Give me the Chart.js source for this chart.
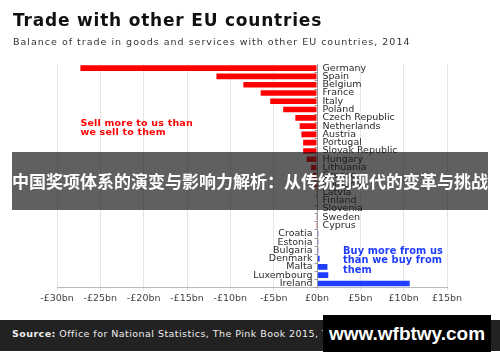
<!DOCTYPE html>
<html>
<head>
<meta charset="utf-8">
<script src="https://cdn.jsdelivr.net/npm/chart.js@4.4.0/dist/chart.umd.min.js"></script>
<style>
  body { margin: 0; width: 500px; height: 362px; overflow: hidden; background: #fff; position: relative; font-family: "DejaVu Sans", sans-serif; }
  #chart { position: absolute; left: 0; top: 0; }
  #title { position: absolute; left: 13px; top: 10px; font-size: 17px; letter-spacing: 0.8px; font-weight: bold; color: #111; white-space: nowrap; }
  #subtitle { position: absolute; left: 13px; top: 36px; font-size: 9.5px; letter-spacing: 1px; color: #333; white-space: nowrap; }
  #footer { position: absolute; left: 0; top: 320px; width: 500px; height: 31px; background: #222; }
  #source { position: absolute; left: 12px; top: 8px; font-size: 9.5px; letter-spacing: 0.45px; color: #eee; white-space: nowrap; }
  #banner { position: absolute; left: 12px; top: 152px; width: 476px; height: 58px; background: rgba(20,20,20,0.68);
            color: #fff; font-family: "Noto Sans CJK SC", sans-serif; font-weight: bold; font-size: 17px;
            line-height: 58px; text-align: center; white-space: nowrap; }
  #mark { position: absolute; left: 323px; top: 315px; width: 168px; height: 37px; background: #000;
          color: #fff; font-family: "Liberation Sans", Arial, sans-serif; font-weight: bold; font-size: 19px;
          line-height: 37px; text-align: center; }
</style>
</head>
<body>
<canvas id="chart" width="500" height="362"></canvas>
<div id="title">Trade with other EU countries</div>
<div id="subtitle">Balance of trade in goods and services with other EU countries, 2014</div>
<div id="footer"><div id="source"><b>Source:</b> Office for National Statistics, The Pink Book 2015, Table 9.3</div></div>
<div id="banner">中国奖项体系的演变与影响力解析：从传统到现代的变革与挑战</div>
<div id="mark">www.wfbtwy.com</div>
<script>
var countries = ['Germany', 'Spain', 'Belgium', 'France', 'Italy', 'Poland', 'Czech Republic', 'Netherlands',
  'Austria', 'Portugal', 'Slovak Republic', 'Hungary', 'Lithuania', 'Greece', 'Romania', 'Latvia', 'Finland',
  'Slovenia', 'Sweden', 'Cyprus', 'Croatia', 'Estonia', 'Bulgaria', 'Denmark', 'Malta', 'Luxembourg', 'Ireland'];
// balance in £bn
var balance = [-27.3, -11.6, -8.5, -6.5, -5.4, -3.9, -2.5, -2.0,
  -1.8, -1.6, -1.6, -1.2, -0.7, -0.5, -0.4, -0.1, -0.05,
  -0.05, -0.03, -0.02, 0.15, 0.15, 0.15, 0.3, 1.2, 1.3, 10.7];
var xTicks = [-30, -25, -20, -15, -10, -5, 0, 5, 10, 15];

var red = '#ff0000';
var blue = '#1f3dff';

var labelPlugin = {
  id: 'countryLabels',
  afterDatasetsDraw: function(chart) {
    var ctx = chart.ctx;
    var x = chart.scales.x, y = chart.scales.y, area = chart.chartArea;
    var zero = Math.round(x.getPixelForValue(0)) + 0.5;
    ctx.save();
    ctx.strokeStyle = '#999';
    ctx.lineWidth = 1;
    ctx.beginPath();
    ctx.moveTo(zero, area.top);
    ctx.lineTo(zero, area.bottom);
    countries.forEach(function(c, i) {
      var py = Math.round(y.getPixelForValue(i) + 4) + 0.5;
      ctx.moveTo(zero - 3, py);
      ctx.lineTo(zero, py);
    });
    ctx.stroke();

    ctx.font = '9.5px "DejaVu Sans"';
    ctx.fillStyle = '#2a2a2a';
    ctx.textBaseline = 'middle';
    countries.forEach(function(c, i) {
      var py = y.getPixelForValue(i);
      if (balance[i] <= 0) {
        ctx.textAlign = 'left';
        ctx.fillText(c, zero + 5, py);
      } else {
        ctx.textAlign = 'right';
        ctx.fillText(c, zero - 5, py);
      }
    });

    ctx.letterSpacing = '0.2px';
    ctx.font = 'bold 9.5px "DejaVu Sans"';
    ctx.textAlign = 'left';
    ctx.fillStyle = red;
    var lx = x.getPixelForValue(-27.3);
    var ly = y.getPixelForValue(6.7);
    ctx.fillText('Sell more to us than', lx, ly);
    ctx.fillText('we sell to them', lx, ly + 9);

    ctx.letterSpacing = '0.1px';
    ctx.font = 'bold 9.8px "DejaVu Sans"';
    ctx.fillStyle = blue;
    var bx = x.getPixelForValue(3);
    var by = y.getPixelForValue(22.1);
    ctx.fillText('Buy more from us', bx, by);
    ctx.fillText('than we buy from', bx, by + 9.5);
    ctx.fillText('them', bx, by + 19);
    ctx.restore();
  }
};

new Chart(document.getElementById('chart').getContext('2d'), {
  type: 'bar',
  data: {
    labels: countries,
    datasets: [{
      data: balance,
      backgroundColor: balance.map(function(v) { return v < 0 ? red : blue; }),
      barPercentage: 0.68,
      categoryPercentage: 1
    }]
  },
  options: {
    indexAxis: 'y',
    responsive: false,
    animation: false,
    devicePixelRatio: 1,
    layout: { padding: { left: 57, right: 53, top: 64, bottom: 56 } },
    plugins: { legend: { display: false }, tooltip: { enabled: false } },
    scales: {
      x: {
        min: -30,
        max: 15,
        afterBuildTicks: function(axis) { axis.ticks = xTicks.map(function(v) { return { value: v }; }); },
        grid: { color: '#e6e6e6', tickLength: 3 },
        border: { color: '#bbb' },
        ticks: {
          padding: 2,
          color: '#444',
          font: { family: 'DejaVu Sans', size: 9.5 },
          callback: function(v) { return (v < 0 ? '-£' + (-v) : '£' + v) + 'bn'; }
        }
      },
      y: { display: false }
    }
  },
  plugins: [labelPlugin]
});
</script>
</body>
</html>
